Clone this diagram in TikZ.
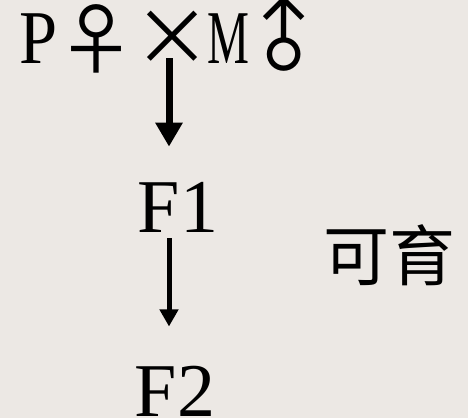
\documentclass[tikz,border=0pt]{standalone}
\usepackage{fontspec}
\usepackage{xcolor}
\usepackage{tikz}
\usetikzlibrary{arrows.meta}
\setmainfont{Liberation Serif}
\newfontfamily\hanzi{Noto Sans CJK SC}
\definecolor{FondoGris}{RGB}{236,232,228}

\tikzset{
  letra/.style={font=\fontsize{76}{76}\selectfont,inner sep=0pt,anchor=base},
  simbolo/.style={font=\hanzi\fontsize{78}{78}\selectfont,inner sep=0pt},
  flechaP/.style={-{Triangle[length=24pt,width=26pt]},line width=7pt},
  flechaF/.style={-{Triangle[length=17pt,width=18pt]},line width=5pt}
}

\begin{document}
\begin{tikzpicture}[x=1pt,y=-1pt,>=Latex]
  \fill[FondoGris] (0,0) rectangle (468,418);
  \useasboundingbox (0,0) rectangle (468,418);
  % generacion parental
  \node[letra,xscale=0.9] (P) at (39,63) {P};
  \node[simbolo] (hembra) at (96,39) {♀};
  \node[simbolo] (cruce) at (172,38) {×};
  \node[letra,xscale=0.62] (M) at (228,63) {M};
  \node[simbolo,rotate=45] (macho) at (285,37) {♂};
  % descendencia
  \node[letra] (F1) at (178,232) {F1};
  \node[letra] (F2) at (175,416) {F2};
  \node[font=\hanzi\fontsize{66}{66}\selectfont,inner sep=0pt] (fertil) at (389,255) {可育};
  \coordinate (bajo) at (169,58);
  \draw[flechaP,shorten >=35pt] (bajo) -- (bajo |- F1.north);
  \draw[flechaF,shorten <=6pt,shorten >=39pt] (F1.south -| bajo) -- (bajo |- F2.north);
\end{tikzpicture}
\end{document}
